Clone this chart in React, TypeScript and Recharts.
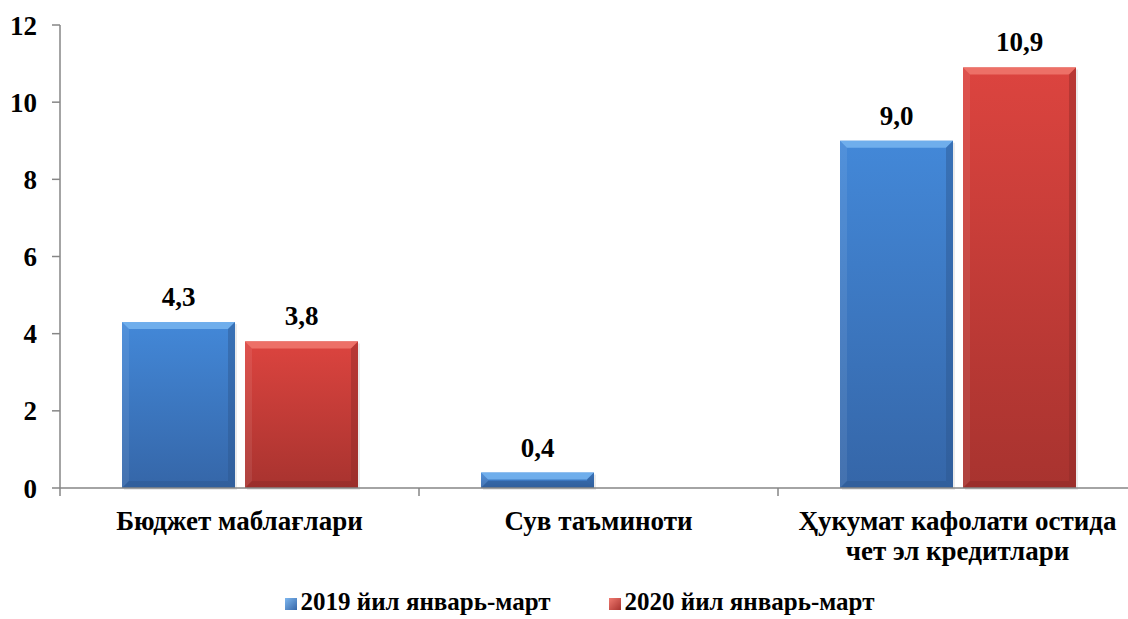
import React from 'react';
import { BarChart, Bar, XAxis, YAxis, LabelList, Legend } from 'recharts';

const categories = ['Бюджет маблағлари', 'Сув таъминоти', 'Ҳукумат кафолати остида чет эл кредитлари'];
const categoryLines = [['Бюджет маблағлари'], ['Сув таъминоти'], ['Ҳукумат кафолати остида', 'чет эл кредитлари']];
const values2019 = [4.3, 0.4, 9.0];
const values2020: (number | null)[] = [3.8, null, 10.9];
const yTicks = [0, 2, 4, 6, 8, 10, 12];
const seriesNames = ['2019 йил январь-март', '2020 йил январь-март'];

const data = categories.map((name, i) => ({
  name,
  y2019: values2019[i],
  y2020: values2020[i],
}));

const FONT = '"Liberation Serif"';
const AXIS = '#868686';

const palette = {
  blue: { top: '#4388d8', bottom: '#3566a8', bevel: '#74b2ee', dark: '#2d578f' },
  red: { top: '#dc443f', bottom: '#a8332f', bevel: '#ee756c', dark: '#8e2a27' },
};

const bevelShape = (key: 'blue' | 'red') => (props: any) => {
  const { x, y, width, height } = props;
  if (!height || height <= 0) return <g />;
  const b = Math.min(7, height / 2);
  const c = palette[key];
  return (
    <g>
      <rect x={x + 2} y={y + 2} width={width} height={height} fill="#000" opacity={0.08} />
      <rect x={x} y={y} width={width} height={height} fill={`url(#grad-${key})`} />
      <polygon points={`${x},${y} ${x + width},${y} ${x + width - b},${y + b} ${x + b},${y + b}`} fill={c.bevel} opacity={0.9} />
      <polygon points={`${x},${y} ${x + b},${y + b} ${x + b},${y + height - b} ${x},${y + height}`} fill="#fff" opacity={0.08} />
      <polygon points={`${x + width},${y} ${x + width - b},${y + b} ${x + width - b},${y + height - b} ${x + width},${y + height}`} fill={c.dark} opacity={0.45} />
      <polygon points={`${x},${y + height} ${x + b},${y + height - b} ${x + width - b},${y + height - b} ${x + width},${y + height}`} fill={c.dark} opacity={0.5} />
    </g>
  );
};

const CategoryTick = (props: any) => {
  const { x, y, payload } = props;
  const lines = categoryLines[payload.index] ?? [String(payload.value)];
  const half = payload.offset ?? 0;
  return (
    <g>
      <line x1={x - half} y1={y - 8} x2={x - half} y2={y} stroke={AXIS} strokeWidth={1.5} />
      <text x={x} y={y + 34} textAnchor="middle" style={{ fontFamily: FONT, fontWeight: 'bold', fontSize: 27 }} fill="#000">
        {lines.map((l: string, i: number) => (
          <tspan key={i} x={x} dy={i === 0 ? 0 : 30}>
            {l}
          </tspan>
        ))}
      </text>
    </g>
  );
};

const fmt = (v: any) => (v == null ? '' : Number(v).toFixed(1).replace('.', ','));

const LegendContent = () => (
  <div
    style={{
      height: 46,
      boxSizing: 'border-box',
      paddingBottom: 3,
      paddingLeft: 22,
      display: 'flex',
      justifyContent: 'center',
      alignItems: 'flex-end',
      gap: 58,
      fontFamily: FONT,
      fontWeight: 'bold',
      fontSize: 25,
      color: '#000',
    }}
  >
    {seriesNames.map((n, i) => (
      <span key={n} style={{ display: 'flex', alignItems: 'center' }}>
        <span
          style={{
            display: 'inline-block',
            width: 12,
            height: 12,
            marginRight: 4,
            marginTop: 3,
            background: i === 0 ? 'linear-gradient(135deg, #7fb8f0, #3566a8)' : 'linear-gradient(135deg, #f07a70, #a8332f)',
          }}
        />
        {n}
      </span>
    ))}
  </div>
);

const labelStyle = { fontFamily: FONT, fontWeight: 'bold', fontSize: 27, fill: '#000' };

export default function App() {
  return (
    <div style={{ position: 'fixed', left: 0, top: 0, width: 1128, height: 619, overflow: 'hidden', background: '#fff' }}>
      <BarChart
        width={1140}
        height={619}
        data={data}
        margin={{ top: 25, right: 3, bottom: 0, left: 0 }}
        barGap={10}
        barSize={113}
      >
        <defs>
          <linearGradient id="grad-blue" x1="0" y1="0" x2="0" y2="1">
            <stop offset="0%" stopColor={palette.blue.top} />
            <stop offset="100%" stopColor={palette.blue.bottom} />
          </linearGradient>
          <linearGradient id="grad-red" x1="0" y1="0" x2="0" y2="1">
            <stop offset="0%" stopColor={palette.red.top} />
            <stop offset="100%" stopColor={palette.red.bottom} />
          </linearGradient>
        </defs>
        <XAxis
          dataKey="name"
          height={85}
          interval={0}
          axisLine={{ stroke: AXIS, strokeWidth: 1.5 }}
          tickLine={false}
          tick={<CategoryTick />}
        />
        <YAxis
          width={60}
          domain={[0, 12]}
          ticks={yTicks}
          interval={0}
          axisLine={{ stroke: AXIS, strokeWidth: 1.5 }}
          tickLine={{ stroke: AXIS, strokeWidth: 1.5 }}
          tickSize={8}
          tickMargin={15}
          tick={{ style: { fontFamily: FONT, fontWeight: 'bold', fontSize: 27 }, fill: '#000' }}
        />
        <Legend verticalAlign="bottom" height={46} content={<LegendContent />} />
        <Bar dataKey="y2019" name={seriesNames[0]} shape={bevelShape('blue')} isAnimationActive={false}>
          <LabelList dataKey="y2019" position="top" offset={16} formatter={fmt} style={labelStyle} />
        </Bar>
        <Bar dataKey="y2020" name={seriesNames[1]} shape={bevelShape('red')} isAnimationActive={false}>
          <LabelList dataKey="y2020" position="top" offset={16} formatter={fmt} style={labelStyle} />
        </Bar>
      </BarChart>
    </div>
  );
}
